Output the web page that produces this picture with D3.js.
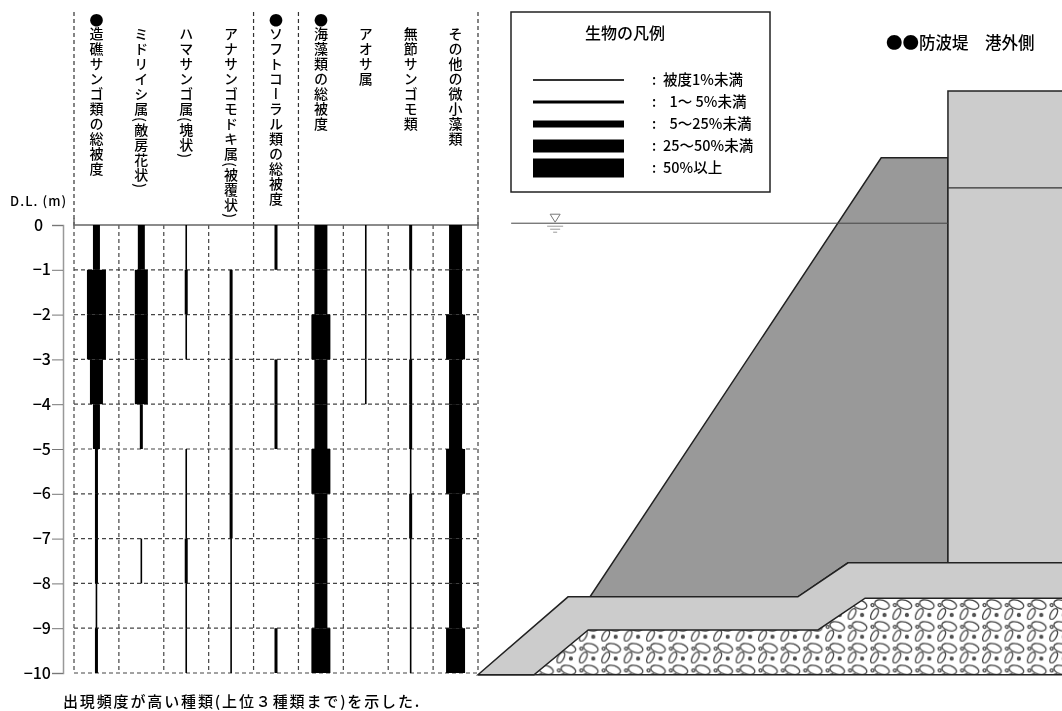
<!DOCTYPE html>
<html lang="ja">
<head>
<meta charset="utf-8">
<script src="https://cdn.jsdelivr.net/npm/d3@7"></script>
<style>
    html, body { margin: 0; padding: 0; background: #fff; }
    svg { display: block; filter: blur(0.35px); }
    text { font-family: "Noto Sans CJK JP", sans-serif; fill: #000; font-weight: 500; }
</style>
</head>
<body>
<div id="chart"></div>
<script>
// 生物の種類
const species = ['造礁サンゴ類の総被度', 'ミドリイシ属(敵房花状)', 'ハマサンゴ属(塊状)', 'アナサンゴモドキ属(被覆状)',
    'ソフトコーラル類の総被度', '海藻類の総被度', 'アオサ属', '無節サンゴモ類', 'その他の微小藻類'];
const marked = ['造礁サンゴ類の総被度', 'ソフトコーラル類の総被度', '海藻類の総被度'];

// 水深帯 (0〜-1, -1〜-2, ... -9〜-10) ごとの被度階級 0:なし 1:1%未満 2:1-5% 3:5-25% 4:25-50% 5:50%以上
const coverCoral = [3, 5, 5, 4, 3, 2, 2, 2, 1, 2];
const coverAcropora = [3, 4, 4, 4, 2, 0, 0, 1, 0, 0];
const coverPorites = [1, 2, 1, 0, 0, 1, 1, 2, 1, 1];
const coverMontipora = [0, 2, 2, 2, 2, 2, 2, 1, 1, 1];
const coverSoft = [2, 0, 0, 2, 2, 0, 0, 0, 0, 2];
const coverAlgae = [4, 4, 5, 4, 4, 5, 4, 4, 4, 5];
const coverUlva = [1, 1, 1, 1, 0, 0, 0, 0, 0, 0];
const coverCoralline = [2, 1, 1, 2, 2, 1, 2, 1, 1, 1];
const coverMicro = [4, 4, 5, 4, 4, 5, 4, 4, 4, 5];
const coverBySpecies = [coverCoral, coverAcropora, coverPorites, coverMontipora, coverSoft,
    coverAlgae, coverUlva, coverCoralline, coverMicro];

const depthTicks = [0, -1, -2, -3, -4, -5, -6, -7, -8, -9, -10];
const legendClasses = [1, 2, 3, 4, 5];
const legendLabels = ['被度1%未満', '  1～ 5%未満', '  5～25%未満', '25～50%未満', '50%以上'];

// 防波堤の断面 [沖からの距離 m, D.L. m]
const caisson = [[10.49, 2.99], [13.1, 2.99], [13.1, -7.54], [10.49, -7.54]];
const caissonJoint = [[10.49, 0.83], [13.1, 0.83]];
const armorBlock = [[9.0, 1.5], [10.49, 1.5], [10.49, -7.54], [8.26, -7.54], [7.14, -8.3], [2.5, -8.3]];
const baseLayer = [[0, -10.04], [2.01, -8.3], [7.14, -8.3], [8.26, -7.54], [13.1, -7.54], [13.1, -8.33],
    [8.64, -8.33], [7.59, -9.04], [2.46, -9.04], [1.25, -10.04]];
const rubble = [[1.25, -10.04], [2.46, -9.04], [7.59, -9.04], [8.64, -8.33], [13.1, -8.33], [13.1, -10.04]];
const waterLine = [[0.74, 0.04], [10.49, 0.04]];

const width = 1062;
const height = 711;

const svg = d3.select('#chart')
    .append('svg')
    .attr('width', width)
    .attr('height', height);

// Escales
const y = d3.scaleLinear().domain([0, -10]).range([225, 673]);
const x = d3.scaleBand().domain(species).range([74, 478]);
const coverWidth = d3.scaleOrdinal().domain(legendClasses).range([1.6, 3, 7, 13, 19]);

// 断面図は水深と同じ縮尺
const sectionX = d3.scaleLinear().domain([0, 1]).range([478, 478 + 44.8]);
const section = d3.line().x(d => sectionX(d[0])).y(d => y(d[1]));
const closed = pts => section(pts) + 'Z';

// グリッド
const edges = species.map(s => x(s)).concat([x.range()[1]]);

svg.append('g')
    .selectAll('line')
    .data(edges)
    .join('line')
    .attr('x1', d => d)
    .attr('x2', d => d)
    .attr('y1', y(0))
    .attr('y2', y(-10))
    .attr('stroke', '#444')
    .attr('stroke-width', 1.2)
    .attr('stroke-dasharray', '4 3');

svg.append('g')
    .selectAll('line')
    .data(depthTicks.slice(1))
    .join('line')
    .attr('x1', x.range()[0])
    .attr('x2', x.range()[1])
    .attr('y1', d => y(d))
    .attr('y2', d => y(d))
    .attr('stroke', '#444')
    .attr('stroke-width', 1.2)
    .attr('stroke-dasharray', '4 3');

// 見出しの区切り
svg.append('g')
    .selectAll('line')
    .data([edges[0], edges[4], edges[5], edges[9]])
    .join('line')
    .attr('x1', d => d)
    .attr('x2', d => d)
    .attr('y1', 12)
    .attr('y2', y(0))
    .attr('stroke', '#333')
    .attr('stroke-width', 1.2)
    .attr('stroke-dasharray', '4 3');

svg.append('path')
    .attr('d', `M${x.range()[0]},${y(0) - 7}V${y(0)}H${x.range()[1]}V${y(0) - 7}`)
    .attr('fill', 'none')
    .attr('stroke', '#666')
    .attr('stroke-width', 1.4);

// 被度の帯
species.forEach((s, i) => {
    const cx = x(s) + x.bandwidth() / 2;

    svg.append('g')
        .selectAll('rect')
        .data(coverBySpecies[i].map((c, k) => ({ c, k })).filter(d => d.c > 0))
        .join('rect')
        .attr('x', d => cx - coverWidth(d.c) / 2)
        .attr('width', d => coverWidth(d.c))
        .attr('y', d => y(-d.k))
        .attr('height', d => y(-d.k - 1) - y(-d.k))
        .attr('fill', '#000');

    // 縦書きラベル
    svg.append('text')
        .attr('x', cx)
        .attr('y', 27)
        .attr('writing-mode', 'vertical-rl')
        .attr('font-size', 14)
        .attr('letter-spacing', 1)
        .text(s);

    if (marked.includes(s)) {
        svg.append('text')
            .attr('x', cx)
            .attr('y', 13)
            .attr('writing-mode', 'vertical-rl')
            .attr('font-size', 14)
            .text('●');
    }
});

// Eix Y
const axis = svg.append('g')
    .attr('transform', 'translate(63,0)')
    .call(d3.axisLeft(y).tickValues(depthTicks).tickSize(11).tickPadding(1).tickFormat(d => String(d).replace('-', '−')));

axis.selectAll('.domain').attr('stroke', '#999').attr('stroke-width', 1.5);
axis.selectAll('line').attr('stroke', '#777');
axis.selectAll('text')
    .attr('font-size', 16)
    .style('font-family', '"Noto Sans CJK JP", sans-serif');
axis.selectAll('.tick').filter(d => d === 0).select('text').attr('dx', -8);

svg.append('text')
    .attr('x', 10)
    .attr('y', 206)
    .attr('font-size', 13)
    .attr('letter-spacing', 1.1)
    .text('D.L. (m)');

svg.append('text')
    .attr('x', 63)
    .attr('y', 707)
    .attr('font-size', 15)
    .attr('letter-spacing', 1.87)
    .text('出現頻度が高い種類(上位３種類まで)を示した.');

// 凡例
svg.append('rect')
    .attr('x', 511)
    .attr('y', 12)
    .attr('width', 259)
    .attr('height', 180)
    .attr('fill', '#fff')
    .attr('stroke', '#222')
    .attr('stroke-width', 1.5);

svg.append('text')
    .attr('x', 625)
    .attr('y', 39)
    .attr('text-anchor', 'middle')
    .attr('font-size', 16)
    .text('生物の凡例');

const legendY = d3.scalePoint().domain(legendClasses).range([80, 168]);

const legend = svg.append('g')
    .selectAll('g')
    .data(legendClasses)
    .join('g')
    .attr('transform', d => `translate(0,${legendY(d)})`);

legend.append('rect')
    .attr('x', 533)
    .attr('width', 91)
    .attr('y', d => -coverWidth(d) / 2)
    .attr('height', d => coverWidth(d))
    .attr('fill', '#000');

legend.append('text')
    .attr('x', 652)
    .attr('y', 5)
    .attr('font-size', 14)
    .text(':');

legend.append('text')
    .attr('x', 663)
    .attr('y', 5)
    .attr('font-size', 14.5)
    .style('white-space', 'pre')
    .text((d, i) => legendLabels[i]);

svg.append('text')
    .attr('x', 886)
    .attr('y', 49)
    .attr('font-size', 16.5)
    .style('white-space', 'pre')
    .text('●●防波堤　港外側');

// 砕石の模様
const pattern = svg.append('defs')
    .append('pattern')
    .attr('id', 'rubble')
    .attr('patternUnits', 'userSpaceOnUse')
    .attr('x', 534)
    .attr('y', 598)
    .attr('width', 22.4)
    .attr('height', 21.8);

const stone = pattern.append('g')
    .attr('fill', 'none')
    .attr('stroke', '#444')
    .attr('stroke-width', 1.3);

stone.append('ellipse')
    .attr('rx', 7.5).attr('ry', 4.3)
    .attr('transform', 'translate(12,6.5) rotate(18)');
stone.append('ellipse')
    .attr('rx', 6).attr('ry', 2.9)
    .attr('transform', 'translate(4.5,16) rotate(-60)');
stone.append('circle')
    .attr('cx', 2.5).attr('cy', 7).attr('r', 1.5);
stone.append('circle')
    .attr('cx', 14.5).attr('cy', 17).attr('r', 1.4)
    .attr('fill', '#666');

// 防波堤
svg.append('path')
    .attr('d', closed(rubble))
    .attr('fill', 'url(#rubble)');

svg.append('path')
    .attr('d', closed(armorBlock))
    .attr('fill', '#999')
    .attr('stroke', '#222')
    .attr('stroke-width', 1.5);

svg.append('path')
    .attr('d', closed(caisson))
    .attr('fill', '#ccc')
    .attr('stroke', '#222')
    .attr('stroke-width', 1.5);

svg.append('path')
    .attr('d', section(caissonJoint))
    .attr('stroke', '#333')
    .attr('stroke-width', 1.2);

svg.append('path')
    .attr('d', closed(baseLayer))
    .attr('fill', '#ccc')
    .attr('stroke', '#222')
    .attr('stroke-width', 1.5);

svg.append('path')
    .attr('d', section([[0, -10.04], [13.1, -10.04]]))
    .attr('stroke', '#222')
    .attr('stroke-width', 1.5);

// 水面
svg.append('path')
    .attr('d', section(waterLine))
    .attr('stroke', '#444')
    .attr('stroke-width', 1);

const wx = sectionX(waterLine[0][0]) + 44;
svg.append('path')
    .attr('d', `M${wx - 5},${y(0.04) - 9}H${wx + 5}L${wx},${y(0.04) - 1}Z`)
    .attr('fill', '#fff')
    .attr('stroke', '#777');

svg.append('g')
    .selectAll('line')
    .data([[3, 8], [6, 5], [9, 2]])
    .join('line')
    .attr('x1', d => wx - d[1])
    .attr('x2', d => wx + d[1])
    .attr('y1', d => y(0.04) + d[0])
    .attr('y2', d => y(0.04) + d[0])
    .attr('stroke', '#999');
</script>
</body>
</html>
